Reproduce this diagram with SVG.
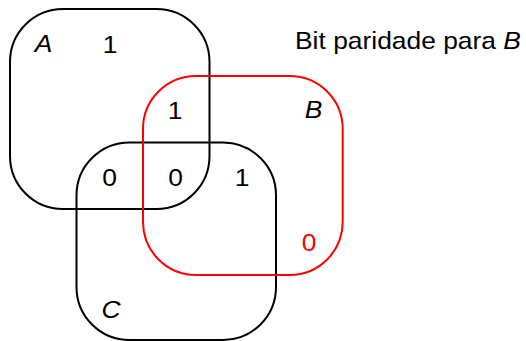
<svg xmlns="http://www.w3.org/2000/svg" width="526" height="341" viewBox="0 0 526 341">
<style>
.set{fill:none;stroke:#000;stroke-width:2}
.red{stroke:#ff0000}
.t{font-family:"Liberation Sans",Arial,Helvetica,sans-serif;font-size:24px;fill:#000;text-anchor:middle}
.i{font-style:italic}
.rt{fill:#ff0000}
</style>
<g id="setA">
<rect class="set" x="10" y="9" width="199.5" height="200" rx="53" ry="53"/>
<text class="t i" transform="translate(43.5,52) scale(1.1,1)">A</text>
</g>
<g id="setC">
<rect class="set" x="76.5" y="142.5" width="199.5" height="197.5" rx="53" ry="53"/>
<text class="t i" transform="translate(111,317.5) scale(1.1,1)">C</text>
</g>
<g id="setB">
<rect class="set red" x="143" y="76" width="199.7" height="199" rx="53" ry="53"/>
<text class="t i" transform="translate(313.5,117.5) scale(1.1,1)">B</text>
<text class="t rt" transform="translate(309,251) scale(1.1,1)">0</text>
</g>
<g id="values">
<text class="t" transform="translate(110,52.5) scale(1.1,1)">1</text>
<text class="t" transform="translate(175,118.5) scale(1.1,1)">1</text>
<text class="t" transform="translate(109.5,185.5) scale(1.1,1)">0</text>
<text class="t" transform="translate(175.5,185.5) scale(1.1,1)">0</text>
<text class="t" transform="translate(242,185.5) scale(1.1,1)">1</text>
</g>
<g id="label">
<text class="t" style="text-anchor:start" transform="translate(295,48.5) scale(1.1,1)">Bit paridade para <tspan class="i">B</tspan></text>
</g>
<g id="connectors"></g>
</svg>
